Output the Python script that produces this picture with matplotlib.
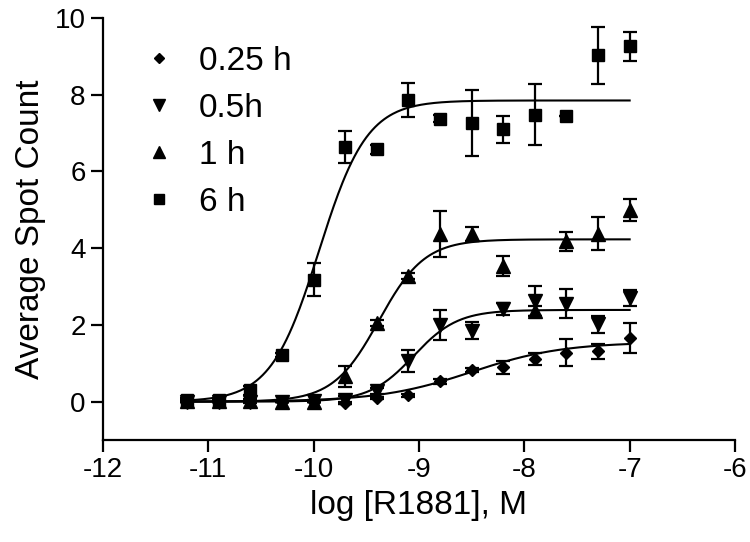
import numpy as np
import matplotlib
matplotlib.use("Agg")
import matplotlib.pyplot as plt
from matplotlib.lines import Line2D

plt.rcParams['font.family'] = ['Liberation Sans', 'DejaVu Sans']
plt.rcParams['axes.unicode_minus'] = False

# log concentration of R1881 (M)
log_conc = [-11.2, -10.9, -10.6, -10.3, -10.0, -9.7, -9.4, -9.1, -8.8, -8.5, -8.2, -7.9, -7.6, -7.3, -7.0]

# average spot counts and SEM
y_025 = [0.0, 0.0, 0.0, -0.02, -0.02, -0.03, 0.10, 0.17, 0.53, 0.82, 0.90, 1.11, 1.27, 1.31, 1.66]
e_025 = [0.0, 0.0, 0.0, 0.0, 0.0, 0.02, 0.03, 0.04, 0.06, 0.06, 0.17, 0.16, 0.35, 0.20, 0.38]
y_05 = [0.0, 0.0, 0.0, 0.0, 0.02, 0.05, 0.28, 1.06, 2.00, 1.85, 2.42, 2.62, 2.55, 2.02, 2.70]
e_05 = [0.0, 0.0, 0.0, 0.02, 0.03, 0.10, 0.08, 0.28, 0.39, 0.22, 0.16, 0.40, 0.38, 0.22, 0.20]
y_1 = [0.02, 0.02, 0.02, 0.0, 0.0, 0.66, 2.04, 3.27, 4.38, 4.36, 3.54, 2.36, 4.18, 4.37, 4.99]
e_1 = [0.02, 0.02, 0.05, 0.02, 0.02, 0.27, 0.08, 0.08, 0.60, 0.18, 0.26, 0.14, 0.25, 0.43, 0.29]
y_6 = [0.05, 0.03, 0.30, 1.22, 3.18, 6.63, 6.58, 7.87, 7.38, 7.26, 7.10, 7.48, 7.45, 9.03, 9.26]
e_6 = [0.05, 0.03, 0.12, 0.06, 0.43, 0.42, 0.12, 0.44, 0.08, 0.86, 0.35, 0.80, 0.0, 0.74, 0.38]

labels = ['0.25 h', '0.5h', '1 h', '6 h']

# sigmoidal fit parameters (top, logEC50, hill), bottom = 0
fit_top = [1.55, 2.39, 4.23, 7.85]
fit_ec50 = [-8.5, -9.05, -9.38, -9.95]
fit_hill = [1.0, 2.08, 2.0, 1.9]


def dose_response(x, top, ec50, hill):
    return top / (1 + 10 ** (hill * (ec50 - x)))


fig = plt.figure(figsize=(7.5, 5.42), dpi=100)
ax = fig.add_axes([0.1373, 0.1882, 0.8427, 0.7786])

series = [(y_025, e_025, 'D', 6.0), (y_05, e_05, 'v', 9.5),
          (y_1, e_1, '^', 9.5), (y_6, e_6, 's', 8.5)]

xs = np.linspace(log_conc[0], log_conc[-1], 300)
for i, (ys, es, mk, ms) in enumerate(series):
    ax.plot(xs, dose_response(xs, fit_top[i], fit_ec50[i], fit_hill[i]),
            color='black', lw=1.5, zorder=2)
    ax.errorbar(log_conc, ys, yerr=es, fmt=mk, ms=ms, color='black',
                ecolor='black', elinewidth=1.6, capsize=4.7, capthick=1.6,
                zorder=3)

handles = [Line2D([], [], ls='none', marker=mk, ms=ms * 0.9, color='black')
           for (_, _, mk, ms) in series]
ax.legend(handles, labels, loc='upper left', bbox_to_anchor=(0.03, 0.965),
          frameon=False, fontsize=24, handletextpad=0.5, labelspacing=0.48,
          handlelength=1.4, borderaxespad=0)

ax.set_xlim(-12, -6)
ax.set_ylim(-1, 10)
ax.set_xticks([-12, -11, -10, -9, -8, -7, -6])
ax.set_yticks([0, 2, 4, 6, 8, 10])
ax.spines['top'].set_visible(False)
ax.spines['right'].set_visible(False)
for s in ['left', 'bottom']:
    ax.spines[s].set_linewidth(1.6)
ax.tick_params(direction='out', length=8.5, width=1.6, labelsize=20, pad=4)
ax.set_xlabel('log [R1881], M', fontsize=24, labelpad=5)
ax.set_ylabel('Average Spot Count', fontsize=24, labelpad=6)

fig.savefig('out.png', dpi=100)
